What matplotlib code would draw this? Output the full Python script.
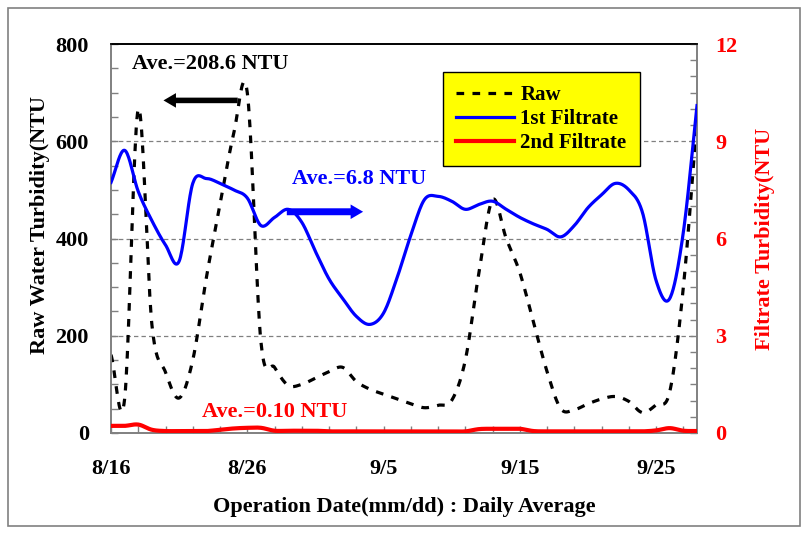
import numpy as np
import matplotlib
matplotlib.use("Agg")
import matplotlib.pyplot as plt
from matplotlib.ticker import MultipleLocator, FixedLocator, FixedFormatter
from matplotlib.lines import Line2D
from matplotlib.patches import Rectangle

# ---- data (daily averages, day 0 = 8/16) ----
days = list(range(44))
raw = [161, 70, 666, 223, 125, 72, 150, 320, 470, 615,
       700, 188, 135, 98, 100, 113, 126, 135, 106, 90,
       80, 70, 60, 52, 57, 67, 150, 330, 480, 400,
       330, 228, 126, 50, 48, 60, 70, 75, 65, 42,
       58, 85, 300, 645]
first_filtrate = [7.73, 8.72, 7.45, 6.55, 5.8, 5.3, 7.7, 7.85, 7.7, 7.5,
                  7.25, 6.4, 6.65, 6.9, 6.5, 5.6, 4.75, 4.15, 3.6, 3.35,
                  3.7, 4.8, 6.1, 7.2, 7.3, 7.15, 6.9, 7.05, 7.15, 6.9,
                  6.65, 6.45, 6.28, 6.05, 6.4, 6.95, 7.35, 7.7, 7.5, 6.8,
                  4.7, 4.15, 6.2, 10.1]
second_filtrate = [0.22, 0.22, 0.26, 0.1, 0.06, 0.06, 0.06, 0.06, 0.1, 0.14,
                   0.16, 0.16, 0.07, 0.07, 0.07, 0.07, 0.05, 0.05, 0.05, 0.05,
                   0.05, 0.05, 0.05, 0.05, 0.05, 0.05, 0.05, 0.12, 0.13, 0.13,
                   0.13, 0.06, 0.05, 0.05, 0.05, 0.05, 0.05, 0.05, 0.05, 0.05,
                   0.08, 0.15, 0.07, 0.06]
xtick_pos = [0, 10, 20, 30, 40]
xtick_labels = ["8/16", "8/26", "9/5", "9/15", "9/25"]
labels = ["Raw", "1st Filtrate", "2nd Filtrate"]


def smooth(x, y, n=20):
    """Catmull-Rom smoothing (like Excel smoothed lines)."""
    x = np.asarray(x, float)
    y = np.asarray(y, float)
    px = np.concatenate([[2 * x[0] - x[1]], x, [2 * x[-1] - x[-2]]])
    py = np.concatenate([[2 * y[0] - y[1]], y, [2 * y[-1] - y[-2]]])
    xs, ys = [], []
    t = np.linspace(0, 1, n, endpoint=False)
    for i in range(1, len(px) - 2):
        p0, p1, p2, p3 = py[i - 1], py[i], py[i + 1], py[i + 2]
        q0, q1, q2, q3 = px[i - 1], px[i], px[i + 1], px[i + 2]
        f = lambda a0, a1, a2, a3: 0.5 * ((2 * a1) + (-a0 + a2) * t +
                                           (2 * a0 - 5 * a1 + 4 * a2 - a3) * t ** 2 +
                                           (-a0 + 3 * a1 - 3 * a2 + a3) * t ** 3)
        xs.append(f(q0, q1, q2, q3))
        ys.append(f(p0, p1, p2, p3))
    xs.append([x[-1]])
    ys.append([y[-1]])
    return np.concatenate(xs), np.concatenate(ys)


FONT = "Liberation Serif"
plt.rcParams["font.family"] = FONT
plt.rcParams["font.weight"] = "bold"

fig = plt.figure(figsize=(8.1, 5.35), dpi=100)
W, H = 810, 535
ax = fig.add_axes([111 / W, (H - 433) / H, (697 - 111) / W, (433 - 44) / H])
ax2 = ax.twinx()

grey = "#808080"

# left axis
ax.set_xlim(0, 43)
ax.set_ylim(0, 800)
ax.yaxis.set_major_locator(MultipleLocator(200))
ax.yaxis.set_minor_locator(MultipleLocator(50))
ax.xaxis.set_major_locator(FixedLocator(xtick_pos))
ax.xaxis.set_major_formatter(FixedFormatter(xtick_labels))
ax.xaxis.set_minor_locator(MultipleLocator(2))
for y in (200, 400, 600):
    ax.axhline(y, color=grey, lw=0.9, ls=(0, (3.5, 2.5)), zorder=0)

xr, yr = smooth(days, raw)
ax.plot(xr, yr, color="black", lw=2.3, ls=(0, (2.4, 2.6)), zorder=2)

# right axis
ax2.set_ylim(0, 12)
ax2.yaxis.set_major_locator(MultipleLocator(3))
ax2.yaxis.set_minor_locator(MultipleLocator(0.5))
x1, y1 = smooth(days, first_filtrate)
ax2.plot(x1, y1, color="#0000FF", lw=2.3, zorder=3)
x2, y2 = smooth(days, second_filtrate)
ax2.plot(x2, y2, color="#FF0000", lw=3.0, zorder=4)

# spines and ticks
for a in (ax, ax2):
    for s in ("left", "right", "bottom"):
        a.spines[s].set_color(grey)
        a.spines[s].set_linewidth(1.2)
    a.spines["top"].set_color("black")
    a.spines["top"].set_linewidth(1.2)

ax.tick_params(axis="y", which="both", direction="in", color=grey, width=1.0,
               length=5, labelsize=16, pad=16)
ax.tick_params(axis="x", which="both", direction="in", color=grey, width=1.0,
               length=5, labelsize=16, pad=19)
ax2.tick_params(axis="y", which="both", direction="in", color=grey, width=1.0,
                length=5, labelsize=16, pad=13, labelcolor="#FF0000")

for lab in ax.get_xticklabels() + ax.get_yticklabels() + ax2.get_yticklabels():
    lab.set_fontweight("bold")

ax.set_ylabel("Raw Water Turbidity(NTU", fontsize=16, fontweight="bold", labelpad=2)
ax.yaxis.set_label_coords(-0.104, (433 - 225) / 389)
ax2.set_ylabel("Filtrate Turbidity(NTU", fontsize=16, fontweight="bold",
               color="#FF0000", labelpad=13)
ax.set_xlabel("Operation Date(mm/dd) : Daily Average", fontsize=16,
              fontweight="bold", labelpad=13)

# annotations
ax.text(1.54, 759, "Ave.=208.6 NTU", fontsize=16, fontweight="bold",
        color="black", va="center", ha="left")
ax.annotate("", xy=(3.85, 684), xytext=(9.3, 684),
            arrowprops=dict(arrowstyle="simple,head_length=0.9,head_width=1.05,tail_width=0.4",
                            color="black", shrinkA=0, shrinkB=0, lw=0))
ax.text(13.3, 522, "Ave.=6.8 NTU", fontsize=16, fontweight="bold",
        color="#0000FF", va="center", ha="left")
ax.annotate("", xy=(18.5, 455), xytext=(12.9, 455),
            arrowprops=dict(arrowstyle="simple,head_length=0.9,head_width=1.05,tail_width=0.5",
                            color="#0000FF", shrinkA=0, shrinkB=0, lw=0))
ax.text(6.69, 43, "Ave.=0.10 NTU", fontsize=16, fontweight="bold",
        color="#FF0000", va="center", ha="left")

# legend
handles = [Line2D([], [], color="black", lw=2.3, ls=(0, (2.4, 2.6))),
           Line2D([], [], color="#0000FF", lw=2.3),
           Line2D([], [], color="#FF0000", lw=3.0)]
leg = ax2.legend(handles, labels, loc="upper left",
                 bbox_to_anchor=((443 - 111) / 586, (433 - 72) / 389),
                 frameon=True, fancybox=False, facecolor="#FFFF00",
                 edgecolor="black", framealpha=1, prop=dict(family=FONT, weight="bold", size=15),
                 handlelength=2.8, handletextpad=0.3, borderpad=0.62,
                 labelspacing=0.2, borderaxespad=0)
leg.get_frame().set_linewidth(1.0)

# outer border
fig.patches.append(Rectangle((8 / W, (H - 526) / H), (800 - 8) / W, (526 - 8) / H,
                             transform=fig.transFigure, fill=False,
                             edgecolor=grey, lw=1.2))

fig.savefig("out.png", dpi=100)
